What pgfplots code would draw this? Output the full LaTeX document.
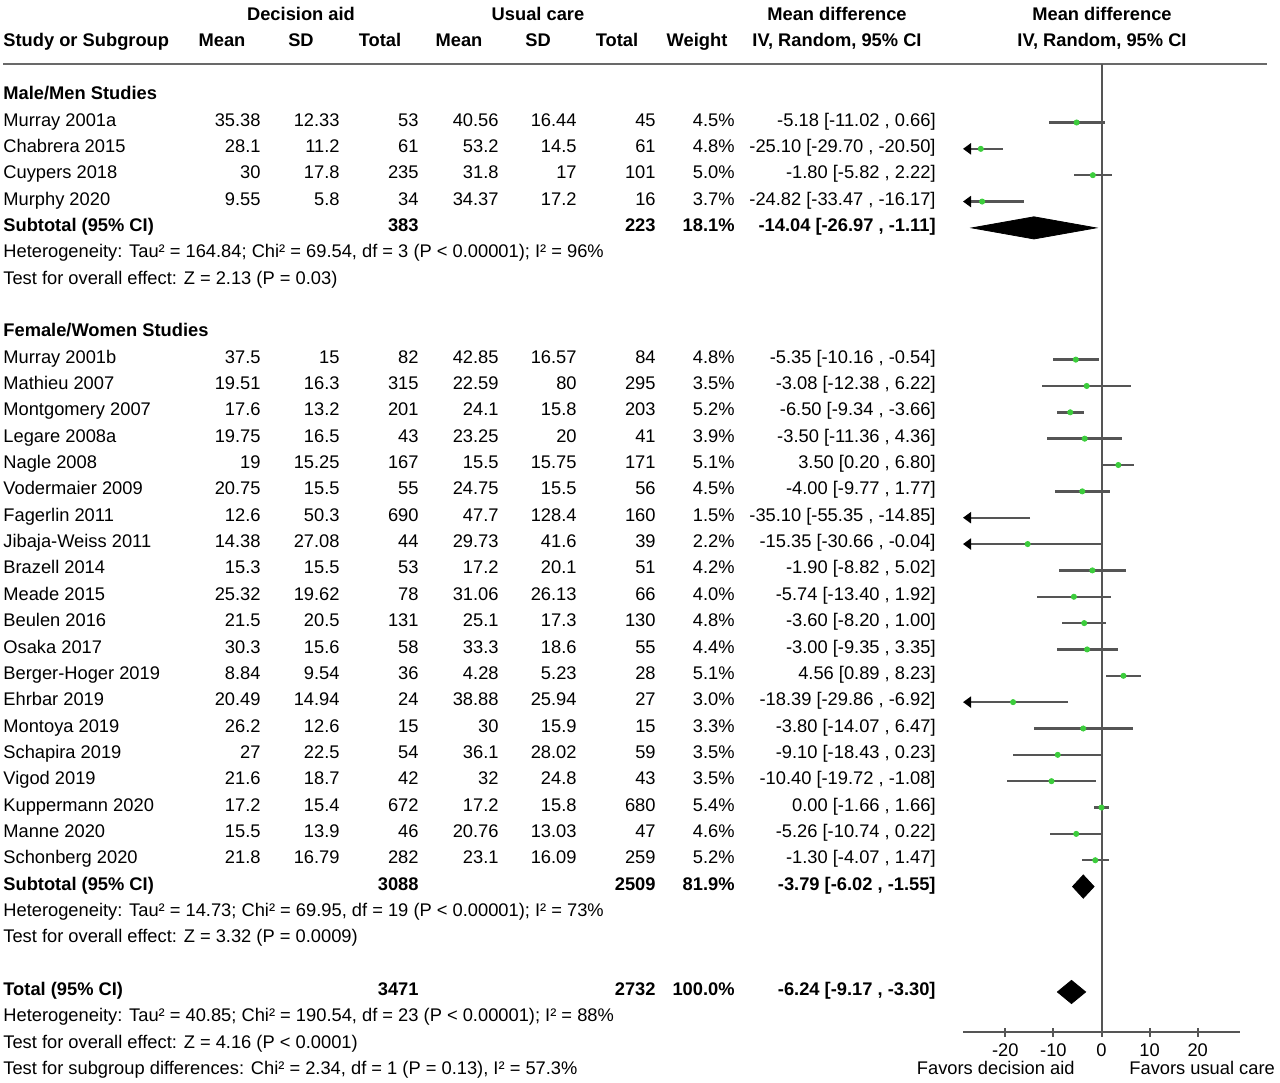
\documentclass[border=0pt]{standalone}
\usepackage{fontspec}
\setmainfont{Liberation Sans}
\usepackage{pgfplots}
\pgfplotsset{compat=1.18}
\usepackage{pgfplotstable}
\usetikzlibrary{arrows.meta}

\definecolor{cigray}{RGB}{85,85,85}
\definecolor{rulegray}{RGB}{105,105,105}
\definecolor{ptgreen}{RGB}{60,205,60}
\newcommand\fs{\fontsize{9.15}{11}\selectfont}

% studies whose CI fits inside the plotted range
\pgfplotstableread{
row md lo hi
0 -5.18 -11.02 0.66
2 -1.80 -5.82 2.22
9 -5.35 -10.16 -0.54
10 -3.08 -12.38 6.22
11 -6.50 -9.34 -3.66
12 -3.50 -11.36 4.36
13 3.50 0.20 6.80
14 -4.00 -9.77 1.77
17 -1.90 -8.82 5.02
18 -5.74 -13.40 1.92
19 -3.60 -8.20 1.00
20 -3.00 -9.35 3.35
21 4.56 0.89 8.23
23 -3.80 -14.07 6.47
24 -9.10 -18.43 0.23
25 -10.40 -19.72 -1.08
26 0.00 -1.66 1.66
27 -5.26 -10.74 0.22
28 -1.30 -4.07 1.47
}\inside

% studies whose lower limit runs off the left edge
\pgfplotstableread{
row md lo hi
1 -25.10 -29.70 -20.50
3 -24.82 -33.47 -16.17
15 -35.10 -55.35 -14.85
16 -15.35 -30.66 -0.04
22 -18.39 -29.86 -6.92
}\cutoff

\begin{document}
\begin{tikzpicture}[x=0.5pt, y=-0.5pt, tx/.style={inner sep=0pt, font=\fs}]
\path[use as bounding box] (0,0) rectangle (1280,1082);

% header
\node[tx, anchor=base, font=\fs\bfseries] at (301,20) {Decision aid};
\node[tx, anchor=base, font=\fs\bfseries] at (538,20) {Usual care};
\node[tx, anchor=base, font=\fs\bfseries] at (837,20) {Mean difference};
\node[tx, anchor=base, font=\fs\bfseries] at (1102,20) {Mean difference};
\node[tx, anchor=base west, font=\fs\bfseries] at (3,46.5) {Study or Subgroup};
\node[tx, anchor=base, font=\fs\bfseries] at (222,46.5) {Mean};
\node[tx, anchor=base, font=\fs\bfseries] at (301,46.5) {SD};
\node[tx, anchor=base, font=\fs\bfseries] at (380,46.5) {Total};
\node[tx, anchor=base, font=\fs\bfseries] at (459,46.5) {Mean};
\node[tx, anchor=base, font=\fs\bfseries] at (538,46.5) {SD};
\node[tx, anchor=base, font=\fs\bfseries] at (617,46.5) {Total};
\node[tx, anchor=base, font=\fs\bfseries] at (697,46.5) {Weight};
\node[tx, anchor=base, font=\fs\bfseries] at (837,46.5) {IV, Random, 95\% CI};
\node[tx, anchor=base, font=\fs\bfseries] at (1102,46.5) {IV, Random, 95\% CI};
\draw[rulegray, line width=1.3pt] (3,64) -- (1267,64);

% study rows
\foreach \rr/\nm/\ma/\sa/\ta/\mb/\sb/\tb/\wt/\ci in {
 0/Murray 2001a/35.38/12.33/53/40.56/16.44/45/4.5/{-5.18 [-11.02 , 0.66]},
 1/Chabrera 2015/28.1/11.2/61/53.2/14.5/61/4.8/{-25.10 [-29.70 , -20.50]},
 2/Cuypers 2018/30/17.8/235/31.8/17/101/5.0/{-1.80 [-5.82 , 2.22]},
 3/Murphy 2020/9.55/5.8/34/34.37/17.2/16/3.7/{-24.82 [-33.47 , -16.17]},
 9/Murray 2001b/37.5/15/82/42.85/16.57/84/4.8/{-5.35 [-10.16 , -0.54]},
 10/Mathieu 2007/19.51/16.3/315/22.59/80/295/3.5/{-3.08 [-12.38 , 6.22]},
 11/Montgomery 2007/17.6/13.2/201/24.1/15.8/203/5.2/{-6.50 [-9.34 , -3.66]},
 12/Legare 2008a/19.75/16.5/43/23.25/20/41/3.9/{-3.50 [-11.36 , 4.36]},
 13/Nagle 2008/19/15.25/167/15.5/15.75/171/5.1/{3.50 [0.20 , 6.80]},
 14/Vodermaier 2009/20.75/15.5/55/24.75/15.5/56/4.5/{-4.00 [-9.77 , 1.77]},
 15/Fagerlin 2011/12.6/50.3/690/47.7/128.4/160/1.5/{-35.10 [-55.35 , -14.85]},
 16/Jibaja-Weiss 2011/14.38/27.08/44/29.73/41.6/39/2.2/{-15.35 [-30.66 , -0.04]},
 17/Brazell 2014/15.3/15.5/53/17.2/20.1/51/4.2/{-1.90 [-8.82 , 5.02]},
 18/Meade 2015/25.32/19.62/78/31.06/26.13/66/4.0/{-5.74 [-13.40 , 1.92]},
 19/Beulen 2016/21.5/20.5/131/25.1/17.3/130/4.8/{-3.60 [-8.20 , 1.00]},
 20/Osaka 2017/30.3/15.6/58/33.3/18.6/55/4.4/{-3.00 [-9.35 , 3.35]},
 21/Berger-Hoger 2019/8.84/9.54/36/4.28/5.23/28/5.1/{4.56 [0.89 , 8.23]},
 22/Ehrbar 2019/20.49/14.94/24/38.88/25.94/27/3.0/{-18.39 [-29.86 , -6.92]},
 23/Montoya 2019/26.2/12.6/15/30/15.9/15/3.3/{-3.80 [-14.07 , 6.47]},
 24/Schapira 2019/27/22.5/54/36.1/28.02/59/3.5/{-9.10 [-18.43 , 0.23]},
 25/Vigod 2019/21.6/18.7/42/32/24.8/43/3.5/{-10.40 [-19.72 , -1.08]},
 26/Kuppermann 2020/17.2/15.4/672/17.2/15.8/680/5.4/{0.00 [-1.66 , 1.66]},
 27/Manne 2020/15.5/13.9/46/20.76/13.03/47/4.6/{-5.26 [-10.74 , 0.22]},
 28/Schonberg 2020/21.8/16.79/282/23.1/16.09/259/5.2/{-1.30 [-4.07 , 1.47]}
}{
  \pgfmathsetmacro\yb{126+26.35*\rr}
  \node[tx, anchor=base west] at (3,\yb) {\nm};
  \node[tx, anchor=base east] at (261,\yb) {\ma};
  \node[tx, anchor=base east] at (340,\yb) {\sa};
  \node[tx, anchor=base east] at (419,\yb) {\ta};
  \node[tx, anchor=base east] at (499,\yb) {\mb};
  \node[tx, anchor=base east] at (577,\yb) {\sb};
  \node[tx, anchor=base east] at (656,\yb) {\tb};
  \node[tx, anchor=base east] at (735,\yb) {\wt\%};
  \node[tx, anchor=base east] at (936,\yb) {\ci};
}

% group headers, subtotals and notes
\node[tx, anchor=base west, font=\fs\bfseries] at (3,{126-26.35}) {Male/Men Studies};
\node[tx, anchor=base west, font=\fs\bfseries] at (3,{126+26.35*8}) {Female/Women Studies};
\foreach \rr/\nm/\ta/\tb/\wt/\ci in {
 4/Subtotal (95\% CI)/383/223/18.1/{-14.04 [-26.97 , -1.11]},
 29/Subtotal (95\% CI)/3088/2509/81.9/{-3.79 [-6.02 , -1.55]},
 33/Total (95\% CI)/3471/2732/100.0/{-6.24 [-9.17 , -3.30]}
}{
  \pgfmathsetmacro\yb{126+26.35*\rr}
  \node[tx, anchor=base west, font=\fs\bfseries] at (3,\yb) {\nm};
  \node[tx, anchor=base east, font=\fs\bfseries] at (419,\yb) {\ta};
  \node[tx, anchor=base east, font=\fs\bfseries] at (656,\yb) {\tb};
  \node[tx, anchor=base east, font=\fs\bfseries] at (735,\yb) {\wt\%};
  \node[tx, anchor=base east, font=\fs\bfseries] at (936,\yb) {\ci};
}
\node[tx, anchor=base west] at (3,{126+26.35*5}) {Heterogeneity: Tau² = 164.84; Chi² = 69.54, df = 3 (P < 0.00001); I² = 96\%};
\node[tx, anchor=base west] at (3,{126+26.35*6}) {Test for overall effect: Z = 2.13 (P = 0.03)};
\node[tx, anchor=base west] at (3,{126+26.35*30}) {Heterogeneity: Tau² = 14.73; Chi² = 69.95, df = 19 (P < 0.00001); I² = 73\%};
\node[tx, anchor=base west] at (3,{126+26.35*31}) {Test for overall effect: Z = 3.32 (P = 0.0009)};
\node[tx, anchor=base west] at (3,{126+26.35*34}) {Heterogeneity: Tau² = 40.85; Chi² = 190.54, df = 23 (P < 0.00001); I² = 88\%};
\node[tx, anchor=base west] at (3,{126+26.35*35}) {Test for overall effect: Z = 4.16 (P < 0.0001)};
\node[tx, anchor=base west] at (3,{126+26.35*36}) {Test for subgroup differences: Chi² = 2.34, df = 1 (P = 0.13), I² = 57.3\%};

\node[tx, anchor=base east] at (1075,1074) {Favors decision aid};
\node[tx, anchor=base west] at (1129,1074) {Favors usual care};

\begin{axis}[
  at={(481.5pt,-516pt)}, anchor=south west,
  scale only axis, width=138.5pt, height=484pt,
  xmin=-28.8, xmax=28.8, ymin=-34.52, ymax=2.22,
  axis x line*=bottom, axis y line=none,
  xtick={-20,-10,0,10,20}, xticklabels={-20,-10,0,10,20},
  ytick=\empty,
  tick align=center, major tick length=4.5pt,
  axis line style={draw=cigray, line width=1pt},
  every tick/.style={draw=cigray, line width=1pt},
  xticklabel style={font=\fs},
  clip=false,
]
% line of no effect
\addplot[cigray, line width=1pt] coordinates {(0,-34.52) (0,2.22)};
% confidence intervals
\addplot[draw=none, mark=none, forget plot,
  error bars/.cd, x dir=both, x explicit, error mark=none,
  error bar style={draw=cigray, line width=1.2pt}]
  table[x=md, y expr=-\thisrow{row},
        x error plus expr=\thisrow{hi}-\thisrow{md},
        x error minus expr=\thisrow{md}-\thisrow{lo}] {\inside};
\addplot[cigray, line width=1.2pt, -{Triangle[length=4pt, width=5.5pt, color=black]}] coordinates {(-20.50,-1) (-28.8,-1)};
\addplot[cigray, line width=1.2pt, -{Triangle[length=4pt, width=5.5pt, color=black]}] coordinates {(-16.17,-3) (-28.8,-3)};
\addplot[cigray, line width=1.2pt, -{Triangle[length=4pt, width=5.5pt, color=black]}] coordinates {(-14.85,-15) (-28.8,-15)};
\addplot[cigray, line width=1.2pt, -{Triangle[length=4pt, width=5.5pt, color=black]}] coordinates {(-0.04,-16) (-28.8,-16)};
\addplot[cigray, line width=1.2pt, -{Triangle[length=4pt, width=5.5pt, color=black]}] coordinates {(-6.92,-22) (-28.8,-22)};
% point estimates
\addplot[only marks, mark=*, mark size=1.3pt, mark options={draw=ptgreen, fill=ptgreen}] table[x=md, y expr=-\thisrow{row}] {\inside};
\addplot[only marks, mark=*, mark size=1.3pt, mark options={draw=ptgreen, fill=ptgreen}, restrict x to domain=-28.8:28.8] table[x=md, y expr=-\thisrow{row}] {\cutoff};
% pooled estimates
\addplot[fill=black, draw=black] coordinates {(-26.97,-4) (-14.04,-3.58) (-1.11,-4) (-14.04,-4.42)} -- cycle;
\addplot[fill=black, draw=black] coordinates {(-6.02,-29) (-3.79,-28.56) (-1.55,-29) (-3.79,-29.44)} -- cycle;
\addplot[fill=black, draw=black] coordinates {(-9.17,-33) (-6.24,-32.56) (-3.30,-33) (-6.24,-33.44)} -- cycle;
\end{axis}
\end{tikzpicture}
\end{document}
